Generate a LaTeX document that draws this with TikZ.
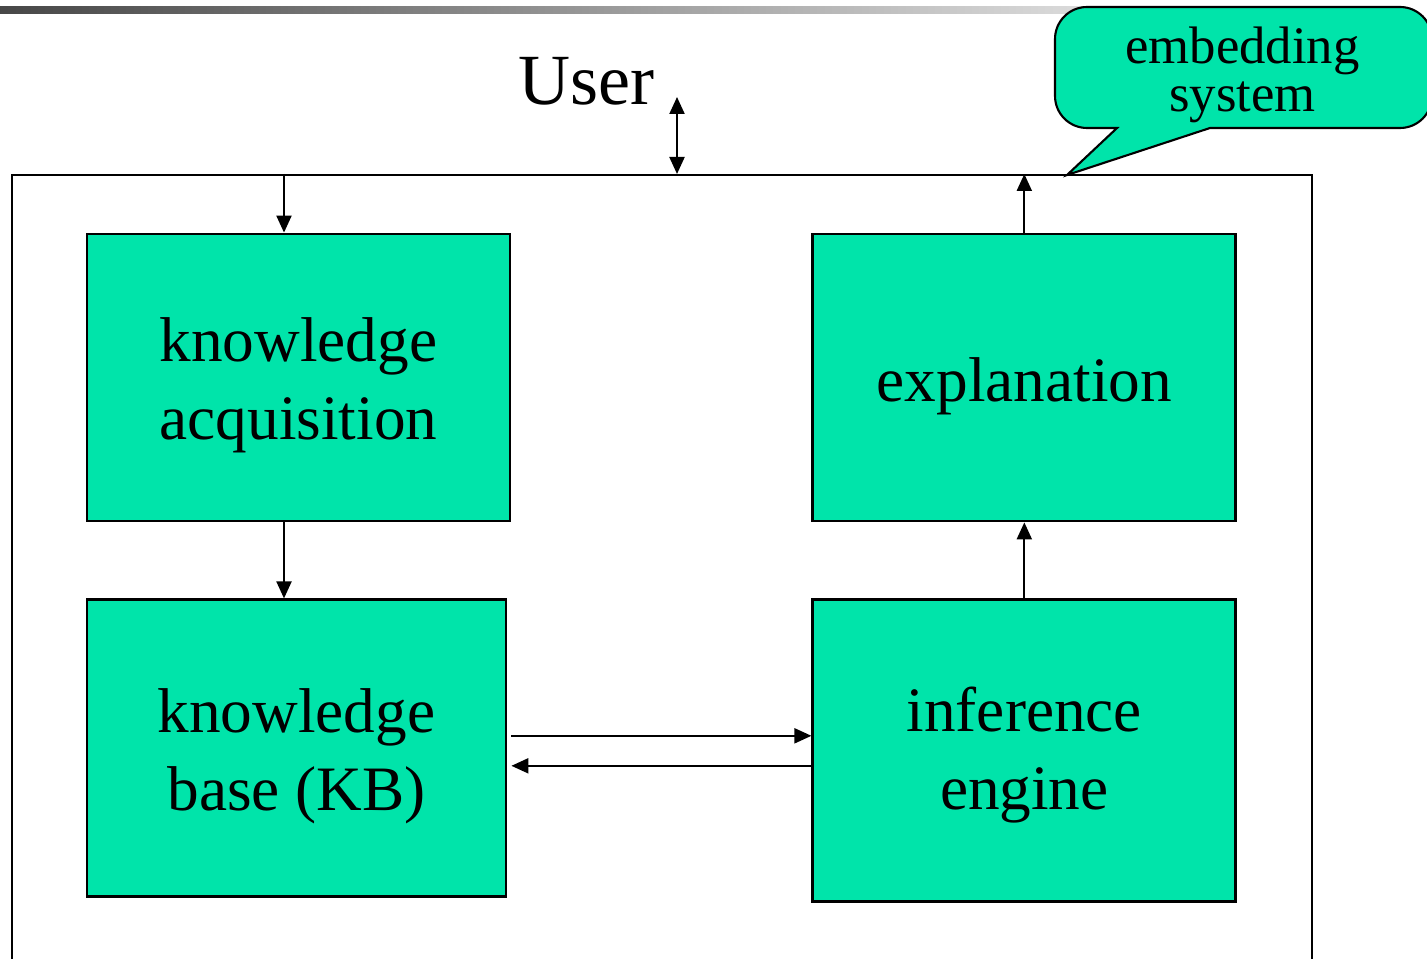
\documentclass[tikz,border=0pt]{standalone}
\usepackage{fontspec}
\setmainfont{Liberation Serif}
\usetikzlibrary{positioning,arrows.meta}
\definecolor{boxgreen}{RGB}{0,228,170}

\begin{document}
\begin{tikzpicture}[
  blk/.style={draw, fill=boxgreen, line width=0.8pt, minimum width=4.23cm, minimum height=2.87cm, align=center,
    font=\fontsize{18}{22}\selectfont, text height=39pt},
  >={Triangle[length=0.17cm, width=0.15cm]}, line width=0.6pt]
  \useasboundingbox (0,0) rectangle (14.27,9.58);
  \clip (0,0) rectangle (14.27,9.58);
  % slide bar
  \shade[left color=black!72, right color=white] (0,9.44) rectangle (13.5,9.51);
  % system frame, runs off the bottom
  \node[draw, line width=0.5pt, minimum width=13cm, minimum height=8.5cm, inner sep=0pt, anchor=north west] (sys) at (0.11,7.84) {};
  \node[blk] (ka) at (2.985,5.805) {knowledge\\acquisition};
  \node[blk, text height=17.5pt, right=3.0cm of ka] (expl) {explanation};
  \node[blk, minimum width=4.19cm, minimum height=2.97cm, below=0.76cm of ka.south west, anchor=north west] (kb) {knowledge\\base (KB)};
  \node[blk, minimum height=3.02cm, text height=37pt, below=0.76cm of expl] (ie) {inference\\engine};
  \node[font=\fontsize{20.5}{24}\selectfont, anchor=base] (user) at (5.865,8.53) {User};
  \coordinate (uplink) at (6.77,8.61);
  % speech bubble
  \draw[fill=boxgreen] (11.17,8.30) -- (10.67,7.83) -- (12.10,8.30) -- (14.00,8.30)
    arc[start angle=-90, end angle=0, radius=0.32] -- (14.32,9.19)
    arc[start angle=0, end angle=90, radius=0.32] -- (10.87,9.51)
    arc[start angle=90, end angle=180, radius=0.32] -- (10.55,8.62)
    arc[start angle=180, end angle=270, radius=0.32] -- cycle;
  \node[align=center, font=\fontsize{15}{13.5}\selectfont] (embed) at (12.425,8.83) {embedding\\system};
  % links
  \coordinate (kaport) at ([xshift=-0.145cm]ka.north);
  \coordinate (fwd) at ([shift={(0.04cm,0.125cm)}]kb.east);
  \coordinate (back) at ([shift={(0.04cm,-0.175cm)}]kb.east);
  \draw[<->] (uplink) -- (uplink |- sys.north);
  \draw[->] (kaport |- sys.north) -- (kaport);
  \draw[->] (kaport |- ka.south) -- (kaport |- kb.north);
  \draw[->] (fwd) -- (fwd -| ie.west);
  \draw[->] (back -| ie.west) -- (back);
  \draw[->] (ie.north) -- (expl.south);
  \draw[->] (expl.north) -- (expl.north |- sys.north);
\end{tikzpicture}
\end{document}
